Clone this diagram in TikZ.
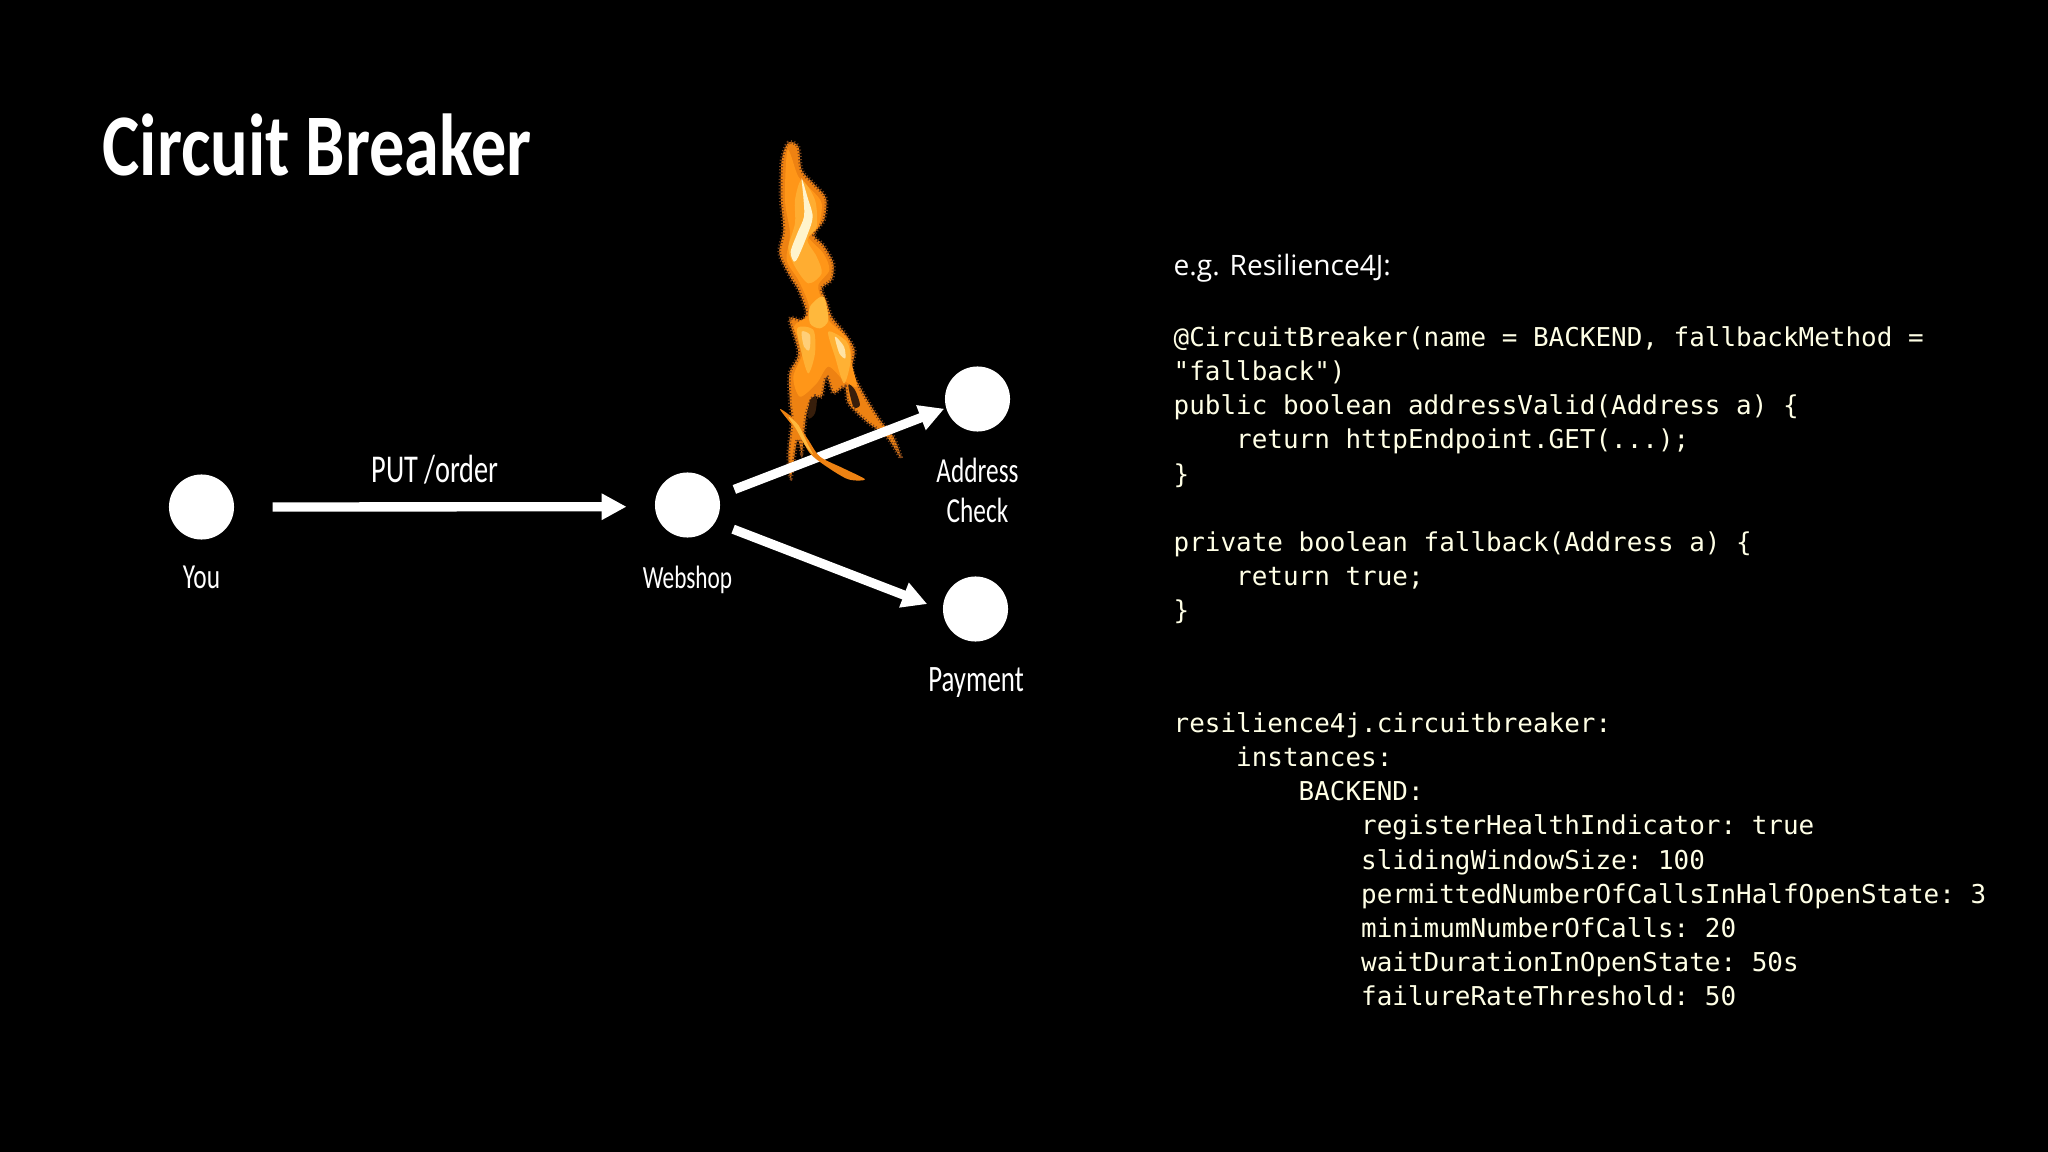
\documentclass[tikz,border=0pt]{standalone}
\usepackage{fontspec}
\usetikzlibrary{arrows.meta}
\setmainfont{Open Sans}
\setmonofont{DejaVu Sans Mono}
\newfontfamily\handfont[FakeStretch=0.72]{Carlito}
\newfontfamily\titlefont[FakeStretch=0.8]{Carlito Bold}
\definecolor{codecream}{HTML}{FFFFE6}
\definecolor{flameedge}{HTML}{7A4218}
\definecolor{flameouter}{HTML}{EE8212}
\definecolor{flamemid}{HTML}{FF9618}
\definecolor{flameinner}{HTML}{FFB83C}
\definecolor{flamecore}{HTML}{FFF4CC}
\newcommand{\codetab}{\phantom{xxxx}}
\tikzset{
  service/.style={circle, fill=white, inner sep=0pt, outer sep=0pt, minimum size=18.5pt},
  flowarrow/.style={draw=white, line width=2.65pt, -{Triangle[length=7.1pt,width=7.1pt]}},
  hand/.style={text=white, inner sep=0pt, anchor=base, font=\handfont\fontsize{10pt}{11pt}\selectfont},
  codeblock/.style={text=codecream, inner sep=0pt, anchor=north west, align=left,
    font=\ttfamily\fontsize{7.38pt}{9.7pt}\selectfont},
  fuzzyedge/.style={draw=flameedge, dash pattern=on 0.3pt off 0.6pt, line width=1.1pt},
}
\begin{document}
\begin{tikzpicture}[x=0.01cm, y=-0.01cm]
\useasboundingbox[fill=black] (0,0) rectangle (2048,1152);
% flame
\begin{scope}[shift={(720,120)}, scale=1/3]
\fill[flameouter, fuzzyedge] plot[smooth cycle, tension=0.5] coordinates {
  (205,68) (235,80) (245,150) (280,190) (318,235) (312,300) (282,345) (310,375) (340,430) (335,480)
  (305,505) (320,545) (335,590) (375,640) (404,690) (397,750) (430,820) (480,900) (520,950) (543,1015)
  (500,950) (440,905) (385,850) (375,800) (340,820) (320,770) (305,830) (280,830) (260,880) (250,960)
  (245,1000) (232,960) (212,1075) (205,1000) (215,900) (210,850) (208,760) (235,700) (208,597) (245,600)
  (258,575) (235,510) (210,470) (178,400) (190,330) (182,230) (185,120)};
\fill[flamemid] plot[smooth cycle, tension=0.5] coordinates {
  (203,90) (235,170) (275,210) (305,250) (295,320) (265,350) (310,400) (328,450) (295,495) (305,540)
  (325,600) (385,660) (395,730) (410,800) (370,780) (325,740) (290,790) (240,830) (220,770) (250,690)
  (222,620) (262,590) (265,550) (235,480) (200,420) (210,340) (195,240)};
\fill[flameinner, opacity=0.7] plot[smooth cycle, tension=0.5] coordinates {
  (245,180) (285,240) (290,320) (262,360) (290,410) (305,460) (265,490) (225,440) (205,385) (225,310) (225,240)};
\fill[flameinner, opacity=0.8] plot[smooth cycle, tension=0.5] coordinates {
  (232,625) (280,630) (285,700) (265,760) (245,700)};
\fill[flameinner, opacity=0.8] plot[smooth cycle, tension=0.5] coordinates {
  (325,635) (380,665) (392,720) (372,790) (345,710)};
\fill[flameinner] plot[smooth cycle, tension=0.5] coordinates {
  (270,560) (310,530) (325,600) (300,625) (270,610)};
\fill[flamecore] plot[smooth cycle, tension=0.5] coordinates {
  (245,175) (262,230) (278,290) (262,345) (235,410) (222,425) (212,395) (232,340) (252,290) (250,230)};
\fill[flamecore, opacity=0.75] plot[smooth cycle, tension=0.5] coordinates {
  (345,650) (372,680) (376,715) (358,700)};
\fill[flamecore, opacity=0.45] plot[smooth cycle, tension=0.5] coordinates {
  (245,635) (270,645) (268,690) (252,680)};
% speckled hollows
\fill[black!55!flameedge] plot[smooth cycle, tension=0.5] coordinates {
  (270,840) (290,835) (285,880) (265,895)};
\fill[black!55!flameedge] plot[smooth cycle, tension=0.5] coordinates {
  (385,795) (405,810) (420,855) (400,860)};
\end{scope}
% title
\node[text=white, inner sep=0pt, anchor=base west, font=\titlefont\fontsize{25pt}{30pt}\selectfont] (title) at (102,176) {Circuit Breaker};
% services
\node[service] (you) at (201.5,507){};
\node[service] (web) at (687.5,505){};
\node[service] (addr) at (977.5,399){};
\node[service] (pay) at (975.5,609){};
\node[hand] (youlabel) at (201.5,588) {You};
\node[hand, font=\handfont\fontsize{9.2pt}{11pt}\selectfont] (weblabel) at (687.5,588) {Webshop};
\node[hand] (addrlabel) at (977.5,482) {Address};
\node[hand] (checklabel) at (977.5,523) {Check};
\node[hand, font=\handfont\fontsize{10.6pt}{11pt}\selectfont] (paylabel) at (976,692) {Payment};
\node[hand, font=\handfont\fontsize{11.2pt}{11pt}\selectfont] (putlabel) at (435,482) {PUT /order};
% connectors
\draw[flowarrow, shorten <=11pt, shorten >=8.1pt] (you.0) -- (web.183.5);
\draw[flowarrow, shorten <=4.8pt, shorten >=0.6pt] (web.17) -- (addr.196.5);
\draw[flowarrow, shorten <=5.5pt, shorten >=4.8pt] (web.-32) -- (pay.182);
% wisp over the arrow
\begin{scope}[shift={(720,120)}, scale=1/3]
\fill[flameouter] plot[smooth cycle, tension=0.5] coordinates {
  (180,868) (225,900) (265,960) (300,1010) (370,1045) (435,1078) (385,1078) (320,1040) (270,1000) (235,940)};
\fill[flameinner] plot[smooth cycle, tension=0.5] coordinates {
  (205,890) (235,915) (262,970) (280,1005) (255,975) (230,930)};
\end{scope}
% code
\node[text=white, inner sep=0pt, anchor=base west, font=\fontsize{8pt}{10pt}\selectfont] (intro) at (1173,276) {e.g. Resilience4J:};
\node[codeblock] (javacode) at (1173,326) {@CircuitBreaker(name = BACKEND, fallbackMethod =\\
"fallback")\\
public boolean addressValid(Address a) \{\\
\codetab return httpEndpoint.GET(...);\\
\}\\
\mbox{}\\
private boolean fallback(Address a) \{\\
\codetab return true;\\
\}};
\node[codeblock] (yamlcode) at (1173,712) {resilience4j.circuitbreaker:\\
\codetab instances:\\
\codetab\codetab BACKEND:\\
\codetab\codetab\codetab registerHealthIndicator: true\\
\codetab\codetab\codetab slidingWindowSize: 100\\
\codetab\codetab\codetab permittedNumberOfCallsInHalfOpenState: 3\\
\codetab\codetab\codetab minimumNumberOfCalls: 20\\
\codetab\codetab\codetab waitDurationInOpenState: 50s\\
\codetab\codetab\codetab failureRateThreshold: 50};
\end{tikzpicture}
\end{document}
